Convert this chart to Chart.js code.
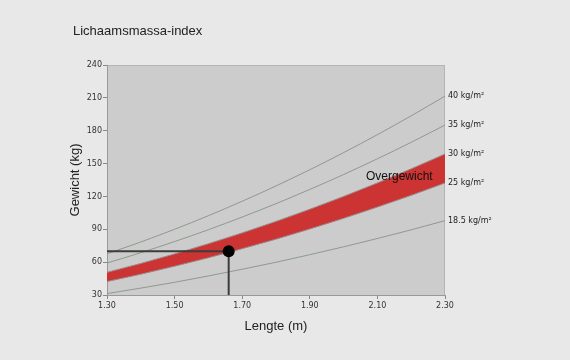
<!DOCTYPE html>
<html lang="nl">
<head>
<meta charset="UTF-8">
<title>Lichaamsmassa-index</title>
<script src="https://cdn.jsdelivr.net/npm/chart.js"></script>
<style>
  html, body { margin: 0; padding: 0; background: #e8e8e8; }
  #wrap { width: 570px; height: 360px; }
</style>
</head>
<body>
<div id="wrap"><canvas id="bmiChart" width="570" height="360"></canvas></div>
<script>
// lengte (m)
var lengte = [1.30, 1.40, 1.50, 1.60, 1.70, 1.80, 1.90, 2.00, 2.10, 2.20, 2.30];
var bmi185 = [31.3, 36.3, 41.6, 47.4, 53.5, 59.9, 66.8, 74.0, 81.6, 89.5, 97.9];
var bmi25  = [42.3, 49.0, 56.3, 64.0, 72.3, 81.0, 90.3, 100.0, 110.3, 121.0, 132.3];
var bmi30  = [50.7, 58.8, 67.5, 76.8, 86.7, 97.2, 108.3, 120.0, 132.3, 145.2, 158.7];
var bmi35  = [59.2, 68.6, 78.8, 89.6, 101.2, 113.4, 126.4, 140.0, 154.4, 169.4, 185.2];
var bmi40  = [67.6, 78.4, 90.0, 102.4, 115.6, 129.6, 144.4, 160.0, 176.4, 193.6, 211.6];
var lijnLabels = ['18.5 kg/m²', '25 kg/m²', '30 kg/m²', '35 kg/m²', '40 kg/m²'];
// persoon
var persoonX = 1.66;
var persoonY = 70;
var xTicks = [1.30, 1.50, 1.70, 1.90, 2.10, 2.30];
var yTicks = [30, 60, 90, 120, 150, 180, 210, 240];

function pts(arr) {
    return arr.map(function (v, i) { return { x: lengte[i], y: v }; });
}

var lijnKleur = '#8e9a8e';

function lijn(arr, extra) {
    var d = {
        data: pts(arr),
        borderColor: lijnKleur,
        borderWidth: 1,
        pointRadius: 0,
        cubicInterpolationMode: 'monotone',
        fill: false,
        order: 5
    };
    for (var k in extra) d[k] = extra[k];
    return d;
}

// achtergrond, teksten en labels
var tekstPlugin = {
    id: 'tekst',
    beforeDraw: function (chart) {
        var c = chart.ctx, a = chart.chartArea;
        c.save();
        c.fillStyle = '#cccccc';
        c.fillRect(a.left, a.top, a.right - a.left, a.bottom - a.top);
        c.strokeStyle = '#b4b4b4';
        c.lineWidth = 1;
        c.beginPath();
        c.moveTo(a.left, a.top + 0.5);
        c.lineTo(a.right, a.top + 0.5);
        c.moveTo(a.right - 0.5, a.top);
        c.lineTo(a.right - 0.5, a.bottom);
        c.stroke();
        c.restore();
    },
    afterDraw: function (chart) {
        var c = chart.ctx, a = chart.chartArea, y = chart.scales.y;
        c.save();
        c.fillStyle = '#222';
        c.textBaseline = 'middle';
        c.font = '13px "Liberation Sans", Arial, sans-serif';
        c.textAlign = 'left';
        c.fillText('Lichaamsmassa-index', 73, 31);
        c.textAlign = 'center';
        c.fillText('Lengte (m)', 276, 326);
        c.save();
        c.translate(75, 180);
        c.rotate(-Math.PI / 2);
        c.fillText('Gewicht (kg)', 0, 0);
        c.restore();

        c.font = '12px "Liberation Sans", Arial, sans-serif';
        c.textAlign = 'left';
        c.fillStyle = '#111';
        c.fillText('Overgewicht', 366, 177);

        c.font = '8px "DejaVu Sans", sans-serif';
        c.fillStyle = '#222';
        var reeksen = [bmi185, bmi25, bmi30, bmi35, bmi40];
        reeksen.forEach(function (r, i) {
            c.fillText(lijnLabels[i], a.right + 3, y.getPixelForValue(r[r.length - 1]));
        });
        c.restore();
    }
};

var ctx = document.getElementById('bmiChart').getContext('2d');
new Chart(ctx, {
    type: 'line',
    data: {
        datasets: [
            lijn(bmi185),
            lijn(bmi25, { borderColor: '#9a8a88' }),
            lijn(bmi30, { borderColor: '#9a8a88', fill: '-1', backgroundColor: '#cc3333' }),
            lijn(bmi35),
            lijn(bmi40),
            {
                data: [{ x: lengte[0], y: persoonY }, { x: persoonX, y: persoonY }, { x: persoonX, y: yTicks[0] }],
                borderColor: '#3c3c3c',
                borderWidth: 2,
                pointRadius: 0,
                tension: 0,
                fill: false,
                order: 1
            },
            {
                data: [{ x: persoonX, y: persoonY }],
                showLine: false,
                backgroundColor: '#000',
                borderColor: '#000',
                borderWidth: 0,
                pointRadius: 6,
                clip: false,
                order: 0
            }
        ]
    },
    options: {
        responsive: false,
        animation: false,
        layout: { padding: { left: 0, right: 125, top: 65, bottom: 0 } },
        plugins: {
            legend: { display: false },
            tooltip: { enabled: false },
            filler: { drawTime: 'beforeDatasetsDraw' }
        },
        scales: {
            x: {
                type: 'linear',
                min: 1.30,
                max: 2.30,
                afterFit: function (s) { s.height = 65; },
                afterBuildTicks: function (s) { s.ticks = xTicks.map(function (v) { return { value: v }; }); },
                grid: { drawOnChartArea: false, tickLength: 4, color: '#888' },
                border: { color: '#999' },
                ticks: {
                    color: '#333',
                    padding: 2,
                    maxRotation: 0,
                    font: { family: '"DejaVu Sans", sans-serif', size: 8 },
                    callback: function (v) { return v.toFixed(2); }
                }
            },
            y: {
                min: 30,
                max: 240,
                afterFit: function (s) { s.width = 107; },
                afterBuildTicks: function (s) { s.ticks = yTicks.map(function (v) { return { value: v }; }); },
                grid: { drawOnChartArea: false, tickLength: 4, color: '#888' },
                border: { color: '#999' },
                ticks: {
                    color: '#333',
                    padding: 1,
                    font: { family: '"DejaVu Sans", sans-serif', size: 8 }
                }
            }
        }
    },
    plugins: [tekstPlugin]
});
</script>
</body>
</html>
